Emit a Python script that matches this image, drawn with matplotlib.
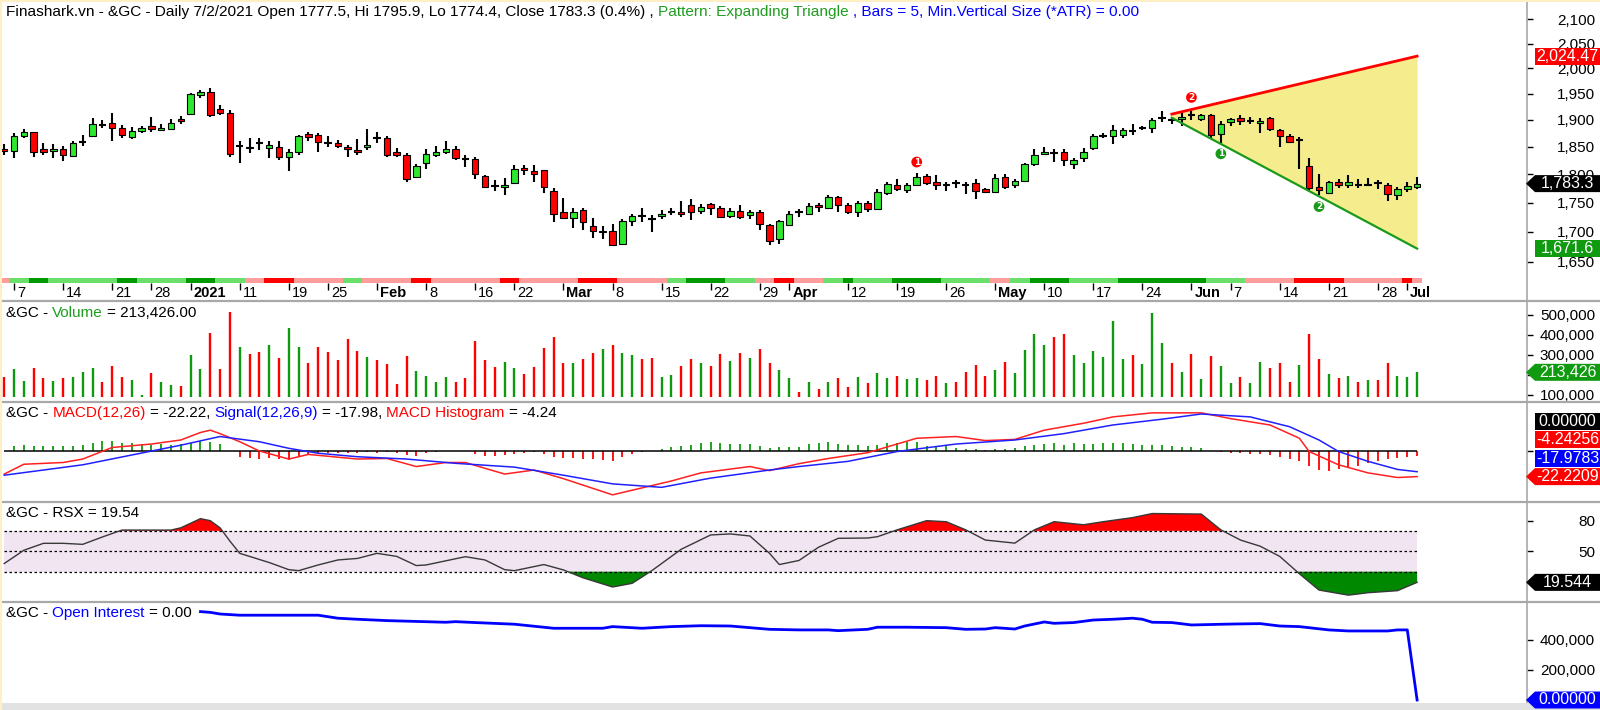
import matplotlib
matplotlib.use("Agg")
import matplotlib.pyplot as plt
import numpy as np
from matplotlib.patches import Polygon, Rectangle
from matplotlib.lines import Line2D
from matplotlib.text import Annotation
from matplotlib.ticker import FixedLocator, NullLocator, FuncFormatter
from matplotlib.transforms import IdentityTransform, ScaledTranslation

plt.rcParams["font.family"] = ["Liberation Sans", "DejaVu Sans"]

# ---------------- data ----------------
# daily bars, index 0 = 4 Dec 2020 ... 144 = 2 Jul 2021
opens = [1846, 1843, 1869, 1877, 1845, 1842, 1846, 1833, 1858, 1870,
         1891, 1895, 1884, 1868, 1880, 1889, 1881, 1882, 1901, 1912,
         1947, 1953, 1921, 1914, 1852, 1847, 1856, 1848, 1849, 1831,
         1841, 1873, 1872, 1857, 1857, 1850, 1844, 1849, 1867, 1866,
         1840, 1835, 1795, 1821, 1834, 1841, 1846, 1828, 1828, 1797,
         1780, 1778, 1785, 1812, 1806, 1807, 1771, 1733, 1724, 1737,
         1709, 1699, 1701, 1680, 1719, 1725, 1721, 1727, 1732, 1733,
         1745, 1735, 1747, 1740, 1727, 1735, 1728, 1734, 1711, 1688,
         1711, 1732, 1731, 1746, 1741, 1760, 1746, 1734, 1749, 1738,
         1766, 1781, 1772, 1781, 1797, 1786, 1780, 1783, 1779, 1785,
         1774, 1769, 1795, 1781, 1788, 1818, 1837, 1839, 1840, 1818,
         1830, 1847, 1869, 1870, 1871, 1879, 1885, 1884, 1904, 1898,
         1901, 1908, 1902, 1910, 1873, 1896, 1904, 1899, 1895, 1903,
         1881, 1870, 1864, 1815, 1777, 1766, 1786, 1781, 1781, 1780,
         1785, 1781, 1764, 1773, 1777.5]
highs = [1855, 1875, 1883, 1878, 1856, 1855, 1851, 1860, 1872, 1904,
         1900, 1914, 1890, 1886, 1889, 1905, 1892, 1901, 1907, 1952,
         1958, 1962, 1928, 1918, 1860, 1866, 1866, 1860, 1860, 1846,
         1872, 1878, 1875, 1869, 1862, 1853, 1864, 1883, 1878, 1869,
         1848, 1838, 1818, 1845, 1852, 1860, 1852, 1835, 1831, 1799,
         1790, 1793, 1816, 1817, 1816, 1808, 1775, 1758, 1740, 1741,
         1723, 1709, 1713, 1721, 1731, 1740, 1729, 1737, 1741, 1752,
         1757, 1747, 1750, 1744, 1740, 1745, 1737, 1737, 1713, 1720,
         1735, 1738, 1750, 1750, 1763, 1761, 1749, 1752, 1752, 1774,
         1786, 1792, 1784, 1802, 1801, 1799, 1786, 1790, 1786, 1792,
         1776, 1801, 1801, 1792, 1821, 1846, 1849, 1846, 1846, 1830,
         1848, 1873, 1876, 1891, 1885, 1892, 1889, 1904, 1916, 1906,
         1913, 1920, 1911, 1911, 1897, 1904, 1909, 1905, 1904, 1906,
         1883, 1873, 1868, 1829, 1800, 1788, 1791, 1799, 1791, 1793,
         1790, 1784, 1777, 1786, 1795.9]
lows = [1835, 1829, 1867, 1832, 1835, 1830, 1824, 1832, 1851, 1869,
        1884, 1860, 1866, 1865, 1876, 1877, 1879, 1881, 1892, 1911,
        1942, 1905, 1910, 1832, 1820, 1838, 1844, 1830, 1825, 1805,
        1835, 1860, 1840, 1849, 1847, 1832, 1835, 1844, 1856, 1832,
        1832, 1787, 1794, 1810, 1832, 1837, 1826, 1813, 1792, 1775,
        1771, 1763, 1783, 1798, 1786, 1766, 1716, 1723, 1707, 1703,
        1690, 1688, 1676, 1679, 1709, 1716, 1700, 1721, 1729, 1725,
        1720, 1730, 1729, 1723, 1723, 1722, 1721, 1703, 1678, 1680,
        1709, 1725, 1729, 1733, 1738, 1733, 1730, 1725, 1734, 1737,
        1764, 1770, 1766, 1779, 1781, 1772, 1771, 1776, 1765, 1757,
        1766, 1768, 1774, 1775, 1786, 1815, 1834, 1822, 1815, 1810,
        1822, 1844, 1866, 1855, 1866, 1872, 1881, 1876, 1896, 1892,
        1888, 1899, 1898, 1867, 1857, 1889, 1890, 1893, 1876, 1880,
        1849, 1856, 1810, 1772, 1763, 1765, 1776, 1776, 1776, 1779,
        1774, 1752, 1755, 1768, 1774.4]
closes = [1842, 1869, 1877, 1840, 1841, 1846, 1834, 1857, 1859, 1892,
          1891, 1884, 1872, 1880, 1884, 1882, 1885, 1895, 1897, 1950,
          1954, 1910, 1913, 1837, 1852, 1849, 1857, 1853, 1832, 1841,
          1869, 1868, 1858, 1857, 1852, 1846, 1840, 1853, 1867, 1834,
          1835, 1791, 1815, 1837, 1840, 1845, 1830, 1828, 1801, 1777,
          1779, 1780, 1810, 1808, 1800, 1778, 1730, 1724, 1734, 1716,
          1701, 1702, 1678, 1719, 1727, 1726, 1721, 1731, 1733, 1731,
          1733, 1742, 1740, 1725, 1735, 1725, 1734, 1713, 1684, 1718,
          1730, 1733, 1744, 1743, 1760, 1746, 1733, 1750, 1738, 1768,
          1783, 1774, 1781, 1795, 1784, 1780, 1783, 1784, 1780, 1771,
          1769, 1793, 1778, 1788, 1818, 1834, 1840, 1839, 1825, 1826,
          1840, 1870, 1870, 1881, 1881, 1880, 1885, 1900, 1904, 1899,
          1906, 1909, 1909, 1871, 1893, 1901, 1898, 1898, 1898, 1882,
          1869, 1859, 1863, 1776, 1772, 1786, 1780, 1787, 1781, 1780,
          1784, 1765, 1773, 1779, 1783.3]

# volume in thousands, and the bar colour (R = down, G = up)
volumes = [188, 230, 172, 235, 183, 172, 183, 188, 215, 235,
           165, 243, 188, 175, 100, 210, 163, 150, 145, 300,
           230, 408, 230, 515, 338, 305, 313, 348, 283, 433,
           338, 258, 338, 313, 273, 378, 322, 290, 273, 253,
           153, 297, 222, 195, 167, 192, 163, 183, 370, 273,
           240, 265, 235, 205, 240, 335, 390, 262, 258, 278,
           310, 330, 352, 310, 300, 280, 283, 192, 200, 245,
           278, 262, 245, 305, 270, 310, 283, 330, 262, 223,
           185, 115, 167, 132, 163, 185, 140, 188, 158, 210,
           185, 193, 180, 185, 175, 193, 158, 167, 215, 250,
           193, 223, 265, 210, 325, 405, 348, 392, 405, 300,
           258, 322, 288, 470, 278, 300, 253, 508, 360, 262,
           215, 305, 180, 297, 245, 158, 188, 158, 265, 235,
           258, 167, 248, 405, 278, 205, 185, 193, 163, 175,
           175, 258, 193, 188, 213.426]
vol_dir = ("RGGRRGRGGG" "RRRGGRGGRG" "GRRRGRRGRG" "GRRRRRRGRR" "RRGGGGRRRR"
           "RGGRRRRRGR" "RGRGGRRGGR" "RGR" "RGRGRRGGRG" "RGRRGRGGRG"
           "GRRGRRRRGR" "GGGGRRGGGG" "GGRGGGRGRG" "RGGRGGRRRG" "RRGRGRGRRG" "GG")

# trend strip under the price pane: P pale red, R red, G pale green, D dark green
trend_strip = ("P" "GG" "DD" "GGGGGGG" "DD" "GGGGG" "DDD" "GGG" "PP" "RRR"
               "PPPPP" "GG" "PPPPP" "RR" "PPPPPPP" "RR" "PPPPPP" "RRRR" "PPPPP" "GG"
               "DDDD" "GGG" "PP" "RR" "PPP" "GG" "D" "GGGG" "DDDDD" "GGGGG"
               "PP" "GG" "DDDD" "GGGGG" "DDDDDDDDD" "GGGG" "PPPPP" "RRRRR" "PPPPPP" "R" "P")

tick_bars = [1, 6, 11, 15, 19, 24, 29, 33, 38, 43, 48, 52, 57, 62, 67, 72, 77, 80,
             86, 91, 96, 101, 106, 111, 116, 121, 125, 130, 135, 140, 143]
tick_names = ["7", "14", "21", "28", "2021", "11", "19", "25", "Feb", "8", "16", "22",
              "Mar", "8", "15", "22", "29", "Apr", "12", "19", "26", "May", "10", "17",
              "24", "Jun", "7", "14", "21", "28", "Jul"]

# expanding triangle
tri_x = [119, 144]
tri_upper = [1911, 2024.47]
tri_lower = [1904, 1671.6]
mark_x = [93, 121, 124, 134]
mark_y = [1822, 1943, 1837, 1743]
mark_txt = ["1", "2", "1", "2"]
mark_col = ["#FF0000", "#FF0000", "#1A9A1A", "#1A9A1A"]

# MACD pane
macd_x = [0, 2, 6, 8, 11, 15, 18, 20, 21, 22, 24, 26, 29, 31, 36, 39, 42, 45, 47, 51,
          54, 57, 62, 65, 68, 71, 76, 78, 81, 84, 88, 93, 97, 100, 103, 106, 108, 110,
          113, 117, 122, 125, 129, 132, 133, 136, 139, 142, 144]
macd_y = [-20, -11.5, -10, -7, 3, 6, 9.5, 16, 18, 15, 8, 0, -7, -3, -7, -6.5, -13.5, -10,
          -10, -20, -16.5, -24, -38, -32, -26, -19, -13.5, -17, -11, -6.5, -1.5, 11, 12.5,
          9, 10, 18, 21, 24, 29.5, 33, 33, 28, 22.5, 11, -0.5, -12, -19, -23, -22.22]
signal_x = [0, 8, 13, 18, 22, 26, 29, 32, 36, 41, 46, 52, 57, 62, 67, 72, 78, 81, 86, 91,
            97, 103, 108, 113, 118, 122, 127, 131, 134, 136, 139, 142, 144]
signal_y = [-21, -12, -3.5, 5, 12.5, 8, 2.3, -2, -5, -7, -10.7, -14, -21, -28.5, -31.5,
            -23.5, -16.5, -13.5, -9, -0.5, 6, 9.5, 15, 22.5, 27.5, 32, 29.5, 21, 9.5,
            -0.5, -9, -16, -17.98]
macd_hist = [0, 4.3, 5.2, 4.6, 4.6, 4.6, 4.6, 4.6, 5.2, 7.2,
             8.9, 8.9, 7.2, 6.6, 6.1, 5.2, 6.1, 5.2, 6.1, 7.2,
             8.9, 8.1, 6.1, 0.3, -4.9, -5.8, -6.9, -6.3, -7.2, -7.8,
             -5.5, -2.6, -2, -2, -2, -1.4, -1.4, -0.9, -1.4, -0.9,
             -1.4, -3.5, -4, -2, -0.9, -0.3, -0.3, -0.3, -2.6, -4.3,
             -4.3, -3.5, -2.6, -1.4, -0.9, -2.6, -4.9, -6.3, -6.3, -7.2,
             -7.2, -7.8, -8.4, -4.9, -2.6, -0.9, 0.3, 1.4, 3.2, 4.3,
             5.5, 6.6, 7.5, 6.6, 6.1, 6.1, 6.1, 4.6, 2.3, 3.2,
             3.75, 3.75, 6.1, 6.6, 7.5, 6.1, 5.2, 5.2, 4.6, 5.2,
             7.2, 7.2, 8.1, 8.1, 4.3, 3.2, 4.3, 2.3, 1.7, 1.4,
             0.9, 1.7, 1.4, 2.3, 4.3, 5.2, 6.1, 6.6, 5.2, 6.6,
             6.1, 6.1, 6.6, 6.6, 6.6, 6.1, 5.2, 5.2, 5.2, 4.3,
             3.75, 3.75, 2.3, 0, -0.9, -1.4, -2, -2.6, -2.6, -3.5,
             -4.9, -7.2, -8.4, -13, -16.5, -17, -15.9, -15, -13, -10.7,
             -8.4, -7.2, -6.3, -5.5, -4.24]

# RSX pane
rsx_x = [0, 2, 4, 6, 8, 10, 12, 14, 17, 18, 20, 21, 22, 23, 24, 27, 29, 30, 32, 34,
         36, 38, 40, 42, 43, 47, 49, 51, 52, 55, 57, 59, 62, 64, 66, 69, 72, 74, 76, 78,
         79, 81, 83, 85, 88, 89, 91, 94, 96, 98, 100, 103, 105, 107, 110, 112, 115, 117,
         122, 124, 126, 128, 130, 132, 134, 137, 139, 142, 144]
rsx_y = [38, 51, 57.8, 57.8, 56.8, 64, 70.8, 70.8, 70.8, 73, 82, 80, 73, 60, 48, 39, 32,
         31, 36.6, 41.5, 43, 48, 45, 36, 36.6, 44.7, 41.5, 32, 31, 37, 31.7, 24, 15, 18.6,
         31, 52, 66, 67, 65, 48, 37, 41, 54, 62.7, 63, 64.3, 71, 80, 79, 71, 61, 58, 71,
         79, 76, 79, 83, 87, 86.5, 71, 61, 55, 45, 28, 12, 7, 9.4, 11.4, 19.544]

# open interest (thousands)
oi_x = [20, 21, 22, 24, 32, 34, 36, 39, 45, 46, 48, 52, 56, 61, 62, 65, 68, 71, 74, 78,
        81, 84, 85, 88, 89, 92, 96, 98, 100, 101, 103, 104, 106, 107, 109, 111, 113,
        115, 116, 117, 119, 121, 125, 128, 130, 132, 135, 137, 141, 142, 143, 144]
oi_y = [589, 584, 573, 565, 565, 545, 538, 529, 518, 522, 516, 505, 478, 478, 489, 478,
        489, 495, 493, 471, 467, 467, 462, 471, 485, 485, 482, 471, 473, 482, 473, 493,
        520, 511, 516, 533, 538, 545, 538, 518, 516, 500, 506, 509, 493, 489, 467, 460,
        460, 467, 467, 0]

# ---------------- colours ----------------
RED = "#FF0000"
GREEN = "#0E9A0E"
LIME = "#2EE82E"
BLUE = "#0000FF"
strip_colors = {"P": "#FF9C9C", "R": "#FF0000", "G": "#6ADF6A", "D": "#009A00"}

W, H = 1600, 710
RIGHT = 1527  # pixel where the value axis starts
fig = plt.figure(figsize=(W / 100, H / 100), dpi=100)
fig.patch.set_facecolor("white")


def pane(top, bottom):
    ax = fig.add_axes([0, 1 - bottom / H, RIGHT / W, (bottom - top) / H])
    ax.set_facecolor("none")
    for s in ax.spines.values():
        s.set_visible(False)
    ax.set_xlim(-0.43, 155.2)
    ax.yaxis.tick_right()
    ax.tick_params(axis="y", direction="out", length=4, width=1, pad=45, labelsize=11)
    ax.tick_params(axis="x", bottom=False, labelbottom=False)
    return ax


def right_labels(ax, hidden=()):
    # labels that sit fully under a value tag are left blank, as on the original
    for t, v in zip(ax.get_yticklabels(), ax.get_yticks()):
        t.set_horizontalalignment("right")
        if v in hidden:
            t.set_visible(False)


ax_p = pane(2, 283)
ax_v = pane(301, 402)
ax_m = pane(402, 502)
ax_r = pane(502, 602)
ax_o = pane(602, 703)

bars = np.arange(len(closes))
o = np.array(opens)
c = np.array(closes)

# ---- price pane ----
ax_p.fill_between(tri_x, tri_lower, tri_upper, color="#F5EC8E", lw=0, zorder=1)
ax_p.plot(tri_x, tri_upper, color=RED, lw=2, zorder=4)
ax_p.plot(tri_x, tri_lower, color="#1A9A1A", lw=1.6, zorder=4)

ax_p.vlines(bars, lows, highs, color="black", lw=1.5, zorder=2)
up = c >= o
body_col = np.where(up, LIME, RED)
solid = np.abs(c - o) >= 1.5
ax_p.bar(bars[solid], np.abs(c - o)[solid], bottom=np.minimum(o, c)[solid], width=0.66,
         color=body_col[solid], edgecolor="black", lw=0.8, zorder=3)
ax_p.hlines(c[~solid], bars[~solid] - 0.38, bars[~solid] + 0.38, color="black", lw=1.5, zorder=3)

ax_p.scatter(mark_x, mark_y, s=60, c=mark_col, zorder=5, edgecolors="none")
for x, y, t in zip(mark_x, mark_y, mark_txt):
    ax_p.text(x, y, t, color="white", fontsize=6.5, fontweight="bold", ha="center",
              va="center", zorder=6, family="DejaVu Sans")

for i, code in enumerate(trend_strip):
    ax_p.add_patch(Rectangle((i - 0.5, 0), 1, 5 / 281, transform=ax_p.get_xaxis_transform(),
                             facecolor=strip_colors[code], lw=0, zorder=2))

ax_p.set_yscale("log")
ax_p.set_ylim(1615.4, 2136.5)
ax_p.yaxis.set_major_locator(FixedLocator(np.arange(1650, 2101, 50)))
ax_p.yaxis.set_minor_locator(NullLocator())
ax_p.yaxis.set_major_formatter(FuncFormatter(lambda v, p: f"{v:,.0f}"))
right_labels(ax_p)

ax_p.set_xticks(tick_bars)
ax_p.set_xticklabels(tick_names)
ax_p.tick_params(axis="x", bottom=True, labelbottom=True, direction="out", length=5,
                 width=1, pad=-3, labelsize=10.5)
shift = ScaledTranslation(3 / 100, 0, fig.dpi_scale_trans)
for lab in ax_p.get_xticklabels():
    lab.set_horizontalalignment("left")
    lab.set_transform(lab.get_transform() + shift)
    if not lab.get_text().isdigit() or lab.get_text() == "2021":
        lab.set_fontweight("bold")

# ---- volume pane ----
vol = np.array(volumes) * 1000
vcols = [GREEN if d == "G" else RED for d in vol_dir]
ax_v.vlines(bars, 92000, vol, colors=vcols, lw=1.7)
ax_v.set_ylim(65000, 570000)
ax_v.set_yticks([100000, 200000, 300000, 400000, 500000])
ax_v.yaxis.set_major_formatter(FuncFormatter(lambda v, p: f"{v:,.0f}"))
right_labels(ax_v, hidden=(200000,))

# ---- MACD pane ----
hist = np.array(macd_hist)
ax_m.vlines(bars, 0, hist, colors=np.where(hist >= 0, GREEN, RED), lw=1.3)
ax_m.hlines(0, 0, bars[-1], color="black", lw=1.1)
ax_m.plot(macd_x, macd_y, color="#FF2020", lw=1.1)
ax_m.plot(signal_x, signal_y, color="#2020FF", lw=1.1)
ax_m.set_ylim(-44.2, 42.4)
ax_m.set_yticks([0])
ax_m.set_yticklabels([""])

# ---- RSX pane ----
ax_r.fill_between([0, bars[-1]], 30, 70, color="#F1E5F1", lw=0)
ax_r.hlines([30, 50, 70], 0, bars[-1], colors="black", linestyles=(0, (2, 2)), lw=0.9)
rx = np.array(rsx_x)
ry = np.array(rsx_y)
ax_r.fill_between(rx, ry, 70, where=ry > 70, interpolate=True, color=RED, lw=0)
ax_r.fill_between(rx, ry, 30, where=ry < 30, interpolate=True, color="#008800", lw=0)
ax_r.plot(rx, ry, color="#383838", lw=1)
ax_r.set_ylim(0.3, 98.3)
ax_r.set_yticks([20, 50, 80])
right_labels(ax_r, hidden=(20,))

# ---- open interest pane ----
ax_o.plot(oi_x, np.array(oi_y) * 1000, color=BLUE, lw=2)
ax_o.set_ylim(-20000, 653000)
ax_o.set_yticks([0, 200000, 400000])
ax_o.yaxis.set_major_formatter(FuncFormatter(lambda v, p: f"{v:,.0f}"))
right_labels(ax_o, hidden=(0,))

# ---- frame lines ----
for y in [301, 402, 502, 602]:
    fig.add_artist(Line2D([0, 1], [1 - y / H] * 2, transform=fig.transFigure,
                          color="#A8A8A8", lw=1.6, zorder=2))
fig.add_artist(Line2D([RIGHT / W] * 2, [1 - 703 / H, 1], transform=fig.transFigure,
                      color="#A8A8A8", lw=1.2, zorder=2))
fig.add_artist(Rectangle((0, 0), 1, 7 / H, transform=fig.transFigure,
                         facecolor="#E2E2E2", edgecolor="none", zorder=2))
fig.add_artist(Rectangle((0, 0), 2 / W, 1, transform=fig.transFigure,
                         facecolor="#FFEFC4", edgecolor="none", zorder=2))
fig.add_artist(Rectangle((0, 1 - 2 / H), 1, 2 / H, transform=fig.transFigure,
                         facecolor="#FFEFC4", edgecolor="none", zorder=2))


# ---- value tags on the right ----
def tag(ypix, label, color, arrow=False):
    top, bot = ypix + 8.5, ypix - 8.5
    if arrow:
        pts = [(1526, ypix), (1535, top), (1600, top), (1600, bot), (1535, bot)]
    else:
        pts = [(1535, top), (1600, top), (1600, bot), (1535, bot)]
    fig.add_artist(Polygon(pts, closed=True, facecolor=color, edgecolor="none",
                           transform=IdentityTransform(), zorder=5))
    fig.add_artist(plt.Text(1567.5, ypix, label, color="white", fontsize=11.5, ha="center",
                            va="center", transform=IdentityTransform(), zorder=6))


def ypix(ax, v):
    return ax.transData.transform((0, v))[1]


tag(ypix(ax_p, tri_upper[-1]), f"{tri_upper[-1]:,.2f}", RED)
tag(ypix(ax_p, closes[-1]), f"{closes[-1]:,.1f}", "black", arrow=True)
tag(ypix(ax_p, tri_lower[-1]), f"{tri_lower[-1]:,.1f}", "#109A10")
tag(ypix(ax_v, vol[-1]), f"{vol[-1]:,.0f}", "#109A10", arrow=True)
base = ypix(ax_m, macd_y[-1])
tag(base, "-22.2209", RED, arrow=True)
tag(base + 18.5, "-17.9783", BLUE)
tag(base + 37, "-4.24256", RED)
tag(base + 55.5, "0.00000", "black")
tag(ypix(ax_r, rsx_y[-1]), f"{rsx_y[-1]:.3f}", "black", arrow=True)
tag(ypix(ax_o, oi_y[-1]), "0.00000", BLUE, arrow=True)


# ---- coloured header lines ----
def rich(ytop, parts, size=11):
    t = fig.text(6 / W, 1 - ytop / H, parts[0][0], color=parts[0][1], fontsize=size,
                 ha="left", va="center", zorder=6)
    for s, col in parts[1:]:
        t = fig.add_artist(Annotation(s, xy=(1, 0), xycoords=t, xytext=(size * 0.27, 0),
                                      textcoords="offset points", color=col,
                                      fontsize=size, ha="left", va="bottom", zorder=6))


rich(12, [("Finashark.vn - &GC - Daily 7/2/2021 Open 1777.5, Hi 1795.9, Lo 1774.4, "
           "Close 1783.3 (0.4%) ,", "black"),
          ("Pattern: Expanding Triangle", "#1E9E1E"),
          (", Bars = 5, Min.Vertical Size (*ATR) = 0.00", BLUE)], size=11.1)
rich(313, [("&GC -", "black"), ("Volume", "#1E9E1E"), ("= 213,426.00", "black")])
rich(413, [("&GC -", "black"), ("MACD(12,26)", RED), ("= -22.22,", "black"),
           ("Signal(12,26,9)", BLUE), ("= -17.98,", "black"), ("MACD Histogram", RED),
           ("= -4.24", "black")])
rich(513, [("&GC - RSX = 19.54", "black")])
rich(613, [("&GC -", "black"), ("Open Interest", BLUE), ("= 0.00", "black")])

fig.savefig("out.png", dpi=100, facecolor="white")
